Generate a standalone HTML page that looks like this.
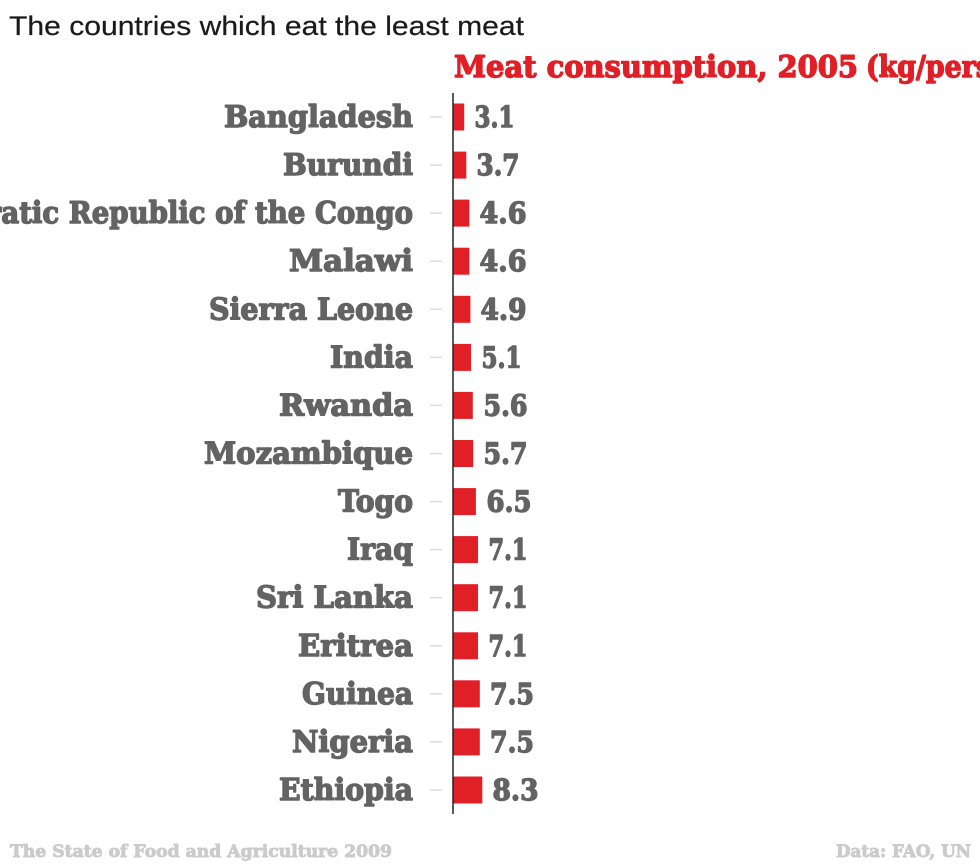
<!DOCTYPE html>
<html>
<head>
<meta charset="utf-8">
<style>
  html, body { margin:0; padding:0; background:#fff; }
  body { width:980px; height:865px; overflow:hidden; }
  svg { display:block; }
  .lab { font-family:"DejaVu Serif", "Liberation Serif", serif; font-weight:bold; font-size:30px; fill:#636363; stroke:#636363; stroke-width:1.4px; stroke-linejoin:round; }
  .val { font-family:"DejaVu Serif", "Liberation Serif", serif; font-weight:bold; font-size:29px; fill:#636363; stroke:#636363; stroke-width:1.4px; stroke-linejoin:round; }
  .sub { font-family:"DejaVu Serif", "Liberation Serif", serif; font-weight:bold; font-size:30px; fill:#e01f26; stroke:#e01f26; stroke-width:1.4px; stroke-linejoin:round; }
  .foot { font-family:"DejaVu Serif", "Liberation Serif", serif; font-weight:bold; font-size:17px; fill:#cbcbcb; stroke:#cbcbcb; stroke-width:0.9px; stroke-linejoin:round; }
  .title { font-family:"Liberation Sans", "DejaVu Sans", sans-serif; font-size:27px; fill:#1a1a1a; stroke:#1a1a1a; stroke-width:0.2px; }
</style>
</head>
<body>
<svg width="980" height="865" viewBox="0 0 980 865" xmlns="http://www.w3.org/2000/svg">
  <text class="title" x="9" y="35" textLength="515" lengthAdjust="spacingAndGlyphs">The countries which eat the least meat</text>

  <text class="sub" x="454" y="77" textLength="404" lengthAdjust="spacingAndGlyphs">Meat consumption, 2005</text>
  <text class="sub" x="866" y="77" textLength="175" lengthAdjust="spacingAndGlyphs">(kg/person)</text>

  <g>
    <text class="lab" x="413" y="127" text-anchor="end" textLength="189" lengthAdjust="spacingAndGlyphs">Bangladesh</text>
    <line x1="430" y1="117" x2="442" y2="117" stroke="#dcdcdc" stroke-width="1.5"/>
    <rect x="453.5" y="103.5" width="10.7" height="27" fill="#e01f26"/>
    <text class="val" x="474.5" y="127" textLength="40" lengthAdjust="spacingAndGlyphs">3.1</text>

    <text class="lab" x="413" y="175.1" text-anchor="end" textLength="130" lengthAdjust="spacingAndGlyphs">Burundi</text>
    <line x1="430" y1="165.1" x2="442" y2="165.1" stroke="#dcdcdc" stroke-width="1.5"/>
    <rect x="453.5" y="151.6" width="12.8" height="27" fill="#e01f26"/>
    <text class="val" x="476.5" y="175.1" textLength="43" lengthAdjust="spacingAndGlyphs">3.7</text>

    <text class="lab" x="413" y="223.1" text-anchor="end" textLength="532" lengthAdjust="spacingAndGlyphs">Democratic Republic of the Congo</text>
    <line x1="430" y1="213.1" x2="442" y2="213.1" stroke="#dcdcdc" stroke-width="1.5"/>
    <rect x="453.5" y="199.6" width="15.9" height="27" fill="#e01f26"/>
    <text class="val" x="479.5" y="223.1" textLength="47" lengthAdjust="spacingAndGlyphs">4.6</text>

    <text class="lab" x="413" y="271.2" text-anchor="end" textLength="124" lengthAdjust="spacingAndGlyphs">Malawi</text>
    <line x1="430" y1="261.2" x2="442" y2="261.2" stroke="#dcdcdc" stroke-width="1.5"/>
    <rect x="453.5" y="247.7" width="15.9" height="27" fill="#e01f26"/>
    <text class="val" x="479.5" y="271.2" textLength="47" lengthAdjust="spacingAndGlyphs">4.6</text>

    <text class="lab" x="413" y="319.3" text-anchor="end" textLength="204" lengthAdjust="spacingAndGlyphs">Sierra Leone</text>
    <line x1="430" y1="309.3" x2="442" y2="309.3" stroke="#dcdcdc" stroke-width="1.5"/>
    <rect x="453.5" y="295.8" width="16.9" height="27" fill="#e01f26"/>
    <text class="val" x="480.5" y="319.3" textLength="46" lengthAdjust="spacingAndGlyphs">4.9</text>

    <text class="lab" x="413" y="367.4" text-anchor="end" textLength="83" lengthAdjust="spacingAndGlyphs">India</text>
    <line x1="430" y1="357.4" x2="442" y2="357.4" stroke="#dcdcdc" stroke-width="1.5"/>
    <rect x="453.5" y="343.9" width="17.6" height="27" fill="#e01f26"/>
    <text class="val" x="481.5" y="367.4" textLength="40" lengthAdjust="spacingAndGlyphs">5.1</text>

    <text class="lab" x="413" y="415.4" text-anchor="end" textLength="134" lengthAdjust="spacingAndGlyphs">Rwanda</text>
    <line x1="430" y1="405.4" x2="442" y2="405.4" stroke="#dcdcdc" stroke-width="1.5"/>
    <rect x="453.5" y="391.9" width="19.3" height="27" fill="#e01f26"/>
    <text class="val" x="483.5" y="415.4" textLength="44" lengthAdjust="spacingAndGlyphs">5.6</text>

    <text class="lab" x="413" y="463.5" text-anchor="end" textLength="209" lengthAdjust="spacingAndGlyphs">Mozambique</text>
    <line x1="430" y1="453.5" x2="442" y2="453.5" stroke="#dcdcdc" stroke-width="1.5"/>
    <rect x="453.5" y="440" width="19.7" height="27" fill="#e01f26"/>
    <text class="val" x="483.5" y="463.5" textLength="44" lengthAdjust="spacingAndGlyphs">5.7</text>

    <text class="lab" x="413" y="511.6" text-anchor="end" textLength="75" lengthAdjust="spacingAndGlyphs">Togo</text>
    <line x1="430" y1="501.6" x2="442" y2="501.6" stroke="#dcdcdc" stroke-width="1.5"/>
    <rect x="453.5" y="488.1" width="22.4" height="27" fill="#e01f26"/>
    <text class="val" x="486.5" y="511.6" textLength="45" lengthAdjust="spacingAndGlyphs">6.5</text>

    <text class="lab" x="413" y="559.6" text-anchor="end" textLength="66" lengthAdjust="spacingAndGlyphs">Iraq</text>
    <line x1="430" y1="549.6" x2="442" y2="549.6" stroke="#dcdcdc" stroke-width="1.5"/>
    <rect x="453.5" y="536.1" width="24.5" height="27" fill="#e01f26"/>
    <text class="val" x="488.5" y="559.6" textLength="39" lengthAdjust="spacingAndGlyphs">7.1</text>

    <text class="lab" x="413" y="607.7" text-anchor="end" textLength="157" lengthAdjust="spacingAndGlyphs">Sri Lanka</text>
    <line x1="430" y1="597.7" x2="442" y2="597.7" stroke="#dcdcdc" stroke-width="1.5"/>
    <rect x="453.5" y="584.2" width="24.5" height="27" fill="#e01f26"/>
    <text class="val" x="488.5" y="607.7" textLength="39" lengthAdjust="spacingAndGlyphs">7.1</text>

    <text class="lab" x="413" y="655.8" text-anchor="end" textLength="115" lengthAdjust="spacingAndGlyphs">Eritrea</text>
    <line x1="430" y1="645.8" x2="442" y2="645.8" stroke="#dcdcdc" stroke-width="1.5"/>
    <rect x="453.5" y="632.3" width="24.5" height="27" fill="#e01f26"/>
    <text class="val" x="488.5" y="655.8" textLength="39" lengthAdjust="spacingAndGlyphs">7.1</text>

    <text class="lab" x="413" y="703.8" text-anchor="end" textLength="111" lengthAdjust="spacingAndGlyphs">Guinea</text>
    <line x1="430" y1="693.8" x2="442" y2="693.8" stroke="#dcdcdc" stroke-width="1.5"/>
    <rect x="453.5" y="680.3" width="26.3" height="27" fill="#e01f26"/>
    <text class="val" x="490" y="703.8" textLength="44" lengthAdjust="spacingAndGlyphs">7.5</text>

    <text class="lab" x="413" y="751.9" text-anchor="end" textLength="121" lengthAdjust="spacingAndGlyphs">Nigeria</text>
    <line x1="430" y1="741.9" x2="442" y2="741.9" stroke="#dcdcdc" stroke-width="1.5"/>
    <rect x="453.5" y="728.4" width="26.3" height="27" fill="#e01f26"/>
    <text class="val" x="490" y="751.9" textLength="44" lengthAdjust="spacingAndGlyphs">7.5</text>

    <text class="lab" x="413" y="800" text-anchor="end" textLength="134" lengthAdjust="spacingAndGlyphs">Ethiopia</text>
    <line x1="430" y1="790" x2="442" y2="790" stroke="#dcdcdc" stroke-width="1.5"/>
    <rect x="453.5" y="776.5" width="28.8" height="27" fill="#e01f26"/>
    <text class="val" x="492.5" y="800" textLength="46" lengthAdjust="spacingAndGlyphs">8.3</text>
  </g>

  <line x1="453" y1="93" x2="453" y2="814" stroke="#222" stroke-width="1.5"/>

  <text class="foot" x="10" y="857" textLength="382" lengthAdjust="spacingAndGlyphs">The State of Food and Agriculture 2009</text>
  <text class="foot" x="836" y="857" textLength="135" lengthAdjust="spacingAndGlyphs">Data: FAO, UN</text>
</svg>
</body>
</html>
